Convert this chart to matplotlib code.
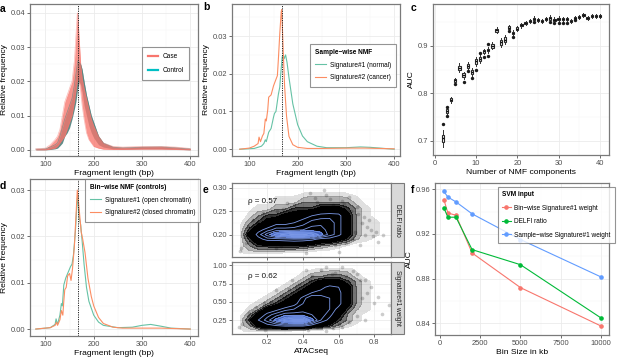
import numpy as np
import matplotlib
matplotlib.use('Agg')
import matplotlib.pyplot as plt
from matplotlib.patches import Rectangle
from matplotlib.lines import Line2D

plt.rcParams['font.family'] = ['Liberation Sans', 'DejaVu Sans']

# ---------------- panel a: fragment length profiles (envelopes of many samples)
frag_len_a = [80, 100, 110, 120, 125, 130, 135, 140, 145, 150, 155, 160, 163, 166, 167, 170, 173, 176,
              180, 185, 190, 195, 200, 210, 220, 240, 260, 300, 340, 370, 400]
case_lo = [0, 0, 0.0002, 0.0005, 0.001, 0.002, 0.003, 0.004, 0.006, 0.008, 0.010, 0.014, 0.017, 0.020, 0.021,
           0.020, 0.017, 0.013, 0.009, 0.005, 0.003, 0.002, 0.001, 0.0005, 0.0002, 0.0001, 0.0001, 0.0002,
           0.0002, 0.0001, 0]
case_hi = [0.0003, 0.0005, 0.0015, 0.003, 0.004, 0.006, 0.010, 0.014, 0.016, 0.018, 0.020, 0.026, 0.033, 0.040,
           0.0395, 0.032, 0.025, 0.021, 0.018, 0.015, 0.012, 0.009, 0.007, 0.004, 0.002, 0.001, 0.0008, 0.001,
           0.001, 0.0008, 0.0004]
ctrl_lo = [0, 0, 0.0001, 0.0003, 0.0005, 0.0012, 0.002, 0.004, 0.005, 0.0065, 0.009, 0.012, 0.014, 0.017, 0.018,
           0.020, 0.019, 0.017, 0.013, 0.010, 0.007, 0.005, 0.0035, 0.0015, 0.0008, 0.0003, 0.0002, 0.0003,
           0.0003, 0.0002, 0]
ctrl_hi = [0.0002, 0.0003, 0.0008, 0.0015, 0.002, 0.004, 0.0065, 0.009, 0.011, 0.013, 0.015, 0.019, 0.022, 0.025,
           0.026, 0.0255, 0.025, 0.0235, 0.020, 0.016, 0.013, 0.010, 0.008, 0.004, 0.002, 0.0008, 0.0006,
           0.0008, 0.0009, 0.0006, 0.0003]

# ---------------- panel b: sample-wise NMF signatures
sig1_normal_x = [80, 110, 120, 125, 130, 133, 135, 140, 145, 150, 152, 155, 160, 163, 165, 168, 170, 172, 175, 178,
                 182, 190, 200, 210, 220, 240, 260, 300, 330, 350, 380, 400]
sig1_normal_y = [0, 0.0002, 0.0006, 0.0008, 0.0015, 0.0025, 0.002, 0.0045, 0.0055, 0.0085, 0.0095, 0.0100, 0.0145,
                 0.0165, 0.020, 0.0245, 0.025, 0.024, 0.025, 0.023, 0.019, 0.012, 0.0065, 0.0035, 0.002, 0.0008,
                 0.0004, 0.0004, 0.0006, 0.0005, 0.0002, 0.0]
sig2_cancer_x = [80, 100, 110, 118, 120, 123, 127, 130, 133, 135, 138, 140, 145, 150, 155, 158, 160, 163, 166, 167,
                 170, 173, 177, 182, 190, 200, 220, 250, 300, 340, 400]
sig2_cancer_y = [0, 0.0003, 0.0008, 0.0015, 0.0032, 0.002, 0.0035, 0.0042, 0.008, 0.0075, 0.0104, 0.0138, 0.0144,
                 0.0168, 0.0185, 0.0195, 0.0237, 0.0307, 0.0365, 0.037, 0.0264, 0.0166, 0.0087, 0.0034, 0.0012,
                 0.0005, 0.0002, 0.0002, 0.0003, 0.0003, 0.0001]

# ---------------- panel c: AUC vs number of NMF components
n_components = list(range(2, 41))
auc_median = [0.705, 0.762, 0.786, 0.827, 0.854, 0.838, 0.858, 0.845, 0.867, 0.872, 0.888, 0.891, 0.900, 0.933,
              0.907, 0.913, 0.938, 0.927, 0.936, 0.943, 0.948, 0.953, 0.956, 0.955, 0.953, 0.957, 0.958, 0.955,
              0.957, 0.956, 0.956, 0.953, 0.958, 0.960, 0.964, 0.959, 0.962, 0.962, 0.962]
auc_box_half = [0.007, 0.004, 0.003, 0.003, 0.004, 0.004, 0.004, 0.004, 0.005, 0.004, 0.003, 0.003, 0.004, 0.003,
                0.005, 0.005, 0.003, 0.003, 0.003, 0.002, 0.002, 0.002, 0.002, 0.002, 0.002, 0.002, 0.003, 0.002,
                0.002, 0.002, 0.002, 0.002, 0.002, 0.002, 0.002, 0.002, 0.002, 0.002, 0.002]
auc_whisker = [0.018, 0.007, 0.006, 0.006, 0.010, 0.007, 0.008, 0.008, 0.010, 0.008, 0.006, 0.006, 0.007, 0.006,
               0.010, 0.010, 0.006, 0.006, 0.005, 0.005, 0.004, 0.004, 0.006, 0.004, 0.004, 0.004, 0.006, 0.005,
               0.005, 0.004, 0.004, 0.004, 0.004, 0.004, 0.004, 0.004, 0.004, 0.004, 0.004]
outlier_k = [2, 3, 3, 5, 7, 8, 9, 10, 11, 12, 13, 13, 18, 19, 24, 28, 29, 30, 31, 32, 34]
outlier_auc = [0.736, 0.772, 0.752, 0.819, 0.824, 0.847, 0.833, 0.850, 0.884, 0.877, 0.878, 0.903, 0.931, 0.919,
               0.950, 0.950, 0.947, 0.948, 0.948, 0.948, 0.954]

# ---------------- panel d: bin-wise NMF signatures (controls)
open_x = [80, 110, 120, 122, 125, 130, 133, 135, 138, 142, 148, 152, 155, 158, 162, 165, 167, 169, 171, 173, 176,
          180, 185, 190, 200, 210, 220, 250, 280, 300, 318, 340, 360, 400]
open_y = [0, 0.0003, 0.001, 0.0022, 0.001, 0.003, 0.0055, 0.005, 0.0095, 0.011, 0.0125, 0.0135, 0.014, 0.016,
          0.021, 0.0265, 0.029, 0.025, 0.0235, 0.0225, 0.019, 0.014, 0.009, 0.006, 0.003, 0.0015, 0.0008, 0.0003,
          0.0004, 0.0008, 0.001, 0.0006, 0.0002, 0]
closed_x = [80, 110, 120, 123, 125, 130, 133, 136, 138, 140, 143, 146, 150, 153, 156, 160, 163, 166, 168, 171, 174,
            177, 182, 188, 195, 200, 210, 220, 240, 260, 300, 340, 400]
closed_y = [0, 0.0003, 0.0008, 0.0015, 0.0008, 0.002, 0.004, 0.003, 0.006, 0.0085, 0.009, 0.0115, 0.012, 0.0105,
            0.013, 0.018, 0.024, 0.030, 0.028, 0.0245, 0.021, 0.0195, 0.0165, 0.011, 0.007, 0.005, 0.0025,
            0.0012, 0.0004, 0.0002, 0.0002, 0.0002, 0]

# ---------------- panel e: density of bins (read as a coarse grid) + sparse outlying bins
atac_grid = [0.05, 0.10, 0.15, 0.20, 0.25, 0.30, 0.35, 0.40, 0.45, 0.50, 0.55, 0.60, 0.65, 0.70, 0.75, 0.80,
             0.85, 0.90]
delfi_grid = [0.16, 0.175, 0.19, 0.20, 0.21, 0.225, 0.24, 0.255, 0.27, 0.29]
delfi_density = [
    [0.5, 1, 1, 1, 1, 0.5, 0.5, 0.5, 0, 0, 0, 0, 0, 0, 0, 0, 0, 0],
    [1, 2, 3, 3, 3.2, 3.2, 3.2, 3, 2.5, 2, 1.5, 1, 0.5, 0, 0, 0, 0, 0],
    [1, 3, 5, 6, 6, 6.2, 6.4, 6.3, 6, 5, 5, 4, 3, 1.5, 1, 0.5, 0, 0],
    [1, 4, 6, 8, 10, 11, 12, 12, 11, 9, 7, 6, 4, 2, 1, 1, 0.5, 0],
    [1, 3, 5, 6, 7, 7, 7, 7.5, 8, 8, 7, 6, 4, 2, 1, 1, 0.5, 0],
    [0.5, 2, 3, 4, 5, 5, 5.5, 6, 7, 7.2, 7, 6, 4, 2, 1, 1, 0.5, 0],
    [0, 1, 2, 3, 3, 4, 4, 5, 5.5, 6, 6.2, 6, 4, 2, 1, 0.5, 0, 0],
    [0, 0.5, 1, 1, 2, 2, 3, 3, 3, 4, 4, 4, 3, 2, 1, 0.5, 0, 0],
    [0, 0, 0.5, 0.5, 1, 1, 1, 2, 2, 2, 2, 2, 2, 1, 0.5, 0, 0, 0],
    [0, 0, 0, 0, 0.5, 0.5, 0.5, 0.5, 1, 1, 1, 1, 0.5, 0.5, 0, 0, 0, 0],
]
sig1w_grid = [0.10, 0.175, 0.25, 0.325, 0.40, 0.475, 0.55, 0.625, 0.70, 0.775, 0.85, 0.95]
sig1w_density = [
    [0.5, 1, 1, 1, 1, 1, 0.5, 0.5, 0, 0, 0, 0, 0, 0, 0, 0, 0, 0],
    [1, 2, 4, 5, 5.5, 6, 6, 6, 5, 4, 3, 2, 1, 0.5, 0, 0, 0, 0],
    [1, 3, 5.5, 7, 9, 11, 12, 12, 9, 6.5, 5, 3, 2, 1, 0.5, 0, 0, 0],
    [0.5, 2, 4, 6, 7, 8, 8, 8, 7.5, 7, 6, 4, 2, 1, 0.5, 0.5, 0, 0],
    [0, 1, 2, 4, 5, 6, 6.5, 7, 7, 7, 6.5, 5, 3, 1.5, 1, 0.5, 0, 0],
    [0, 0.5, 1, 2, 3, 4, 5, 6.5, 7, 7, 6.5, 6, 4, 2, 1, 0.5, 0.5, 0],
    [0, 0, 0.5, 1, 2, 3, 4, 6, 7.5, 7, 6.5, 6, 4, 2, 1, 0.5, 0.5, 0],
    [0, 0, 0, 0.5, 1, 2, 3, 4, 5.5, 6, 6.5, 6, 4, 2, 1, 0.5, 0, 0],
    [0, 0, 0, 0, 0.5, 1, 2, 3, 4, 5, 6, 5.5, 4, 2, 1, 0.5, 0, 0],
    [0, 0, 0, 0, 0, 0.5, 1, 2, 3, 4, 4, 4, 3, 2, 1, 0.5, 0, 0],
    [0, 0, 0, 0, 0, 0, 0.5, 1, 2, 2, 2.5, 2.5, 2, 1, 0.5, 0, 0, 0],
    [0, 0, 0, 0, 0, 0, 0, 0.5, 0.5, 1, 1, 1, 1, 0.5, 0, 0, 0, 0],
]
delfi_pts_x = [0.046, 0.052, 0.079, 0.123, 0.179, 0.254, 0.31, 0.44, 0.516, 0.66, 0.74, 0.78, 0.82, 0.72, 0.60,
               0.416, 0.09, 0.15, 0.35, 0.55, 0.63, 0.70, 0.76, 0.68, 0.58, 0.25, 0.20, 0.38, 0.48, 0.85,
               0.07, 0.11, 0.14, 0.22, 0.29, 0.33, 0.47, 0.53, 0.57, 0.62, 0.67, 0.71, 0.73, 0.77, 0.79,
               0.81, 0.64, 0.45, 0.40, 0.28, 0.17, 0.13, 0.69, 0.75]
delfi_pts_y = [0.164, 0.171, 0.182, 0.232, 0.246, 0.250, 0.267, 0.288, 0.295, 0.280, 0.237, 0.209, 0.184, 0.177,
               0.163, 0.160, 0.215, 0.225, 0.262, 0.275, 0.265, 0.258, 0.215, 0.190, 0.178, 0.172, 0.230, 0.245,
               0.270, 0.200, 0.195, 0.186, 0.222, 0.238, 0.255, 0.248, 0.278, 0.285, 0.262, 0.272, 0.250,
               0.243, 0.225, 0.232, 0.196, 0.205, 0.182, 0.175, 0.178, 0.176, 0.180, 0.210, 0.205, 0.200]
sig1w_pts_x = [0.04, 0.079, 0.135, 0.247, 0.34, 0.42, 0.53, 0.62, 0.75, 0.82, 0.84, 0.75, 0.53, 0.25, 0.19,
               0.10, 0.30, 0.45, 0.58, 0.70, 0.78, 0.66, 0.36, 0.15, 0.88, 0.60, 0.48, 0.22, 0.40, 0.70,
               0.06, 0.12, 0.18, 0.28, 0.32, 0.38, 0.44, 0.50, 0.56, 0.64, 0.68, 0.72, 0.76, 0.80, 0.66,
               0.62, 0.57, 0.43, 0.26, 0.20, 0.09, 0.73]
sig1w_pts_y = [0.158, 0.25, 0.43, 0.66, 0.795, 0.93, 0.977, 0.98, 0.795, 0.565, 0.34, 0.25, 0.10, 0.158, 0.12,
               0.35, 0.55, 0.85, 0.90, 0.88, 0.70, 0.45, 0.70, 0.30, 0.45, 0.20, 0.15, 0.50, 0.62, 0.30,
               0.20, 0.38, 0.48, 0.58, 0.68, 0.75, 0.80, 0.93, 0.88, 0.86, 0.92, 0.80, 0.62, 0.48, 0.22,
               0.16, 0.14, 0.12, 0.45, 0.40, 0.30, 0.55]
rho_labels = ['ρ = 0.57', 'ρ = 0.62']
strip_labels = ['DELFI ratio', 'Signature#1 weight']

# ---------------- panel f: SVM AUC vs bin size
bin_size_kb = [250, 500, 1000, 2000, 5000, 10000]
auc_binwise = [0.9507, 0.9388, 0.9367, 0.9030, 0.8720, 0.8376]
auc_delfi = [0.9433, 0.9350, 0.9350, 0.9060, 0.8925, 0.8448]
auc_samplewise = [0.9580, 0.9530, 0.9487, 0.9380, 0.9150, 0.8815]
svm_labels = ['Bin−wise Signature#1 weight', 'DELFI ratio', 'Sample−wise Signature#1 weight']

# ============================================================ drawing
W, H = 617, 359
fig = plt.figure(figsize=(W / 100, H / 100), dpi=100)

TICK_FS = 5.4
LAB_FS = 6.1
LEG_FS = 4.7
GRID_MAJ = '#EBEBEB'
GRID_MIN = '#F4F4F4'
BORDER = '#7A7A7A'


def add_ax(l, t, r, b):
    return fig.add_axes([l / W, 1 - b / H, (r - l) / W, (b - t) / H])


def style(ax, xmaj, xmin, ymaj, ymin, xlim, ylim, yfmt=None):
    ax.set_xlim(*xlim)
    ax.set_ylim(*ylim)
    ax.set_xticks(xmaj)
    ax.set_xticks(xmin, minor=True)
    ax.set_yticks(ymaj)
    ax.set_yticks(ymin, minor=True)
    if yfmt:
        ax.set_yticklabels([yfmt.format(v) for v in ymaj])
    ax.grid(which='major', color=GRID_MAJ, lw=0.6)
    ax.grid(which='minor', color=GRID_MIN, lw=0.35)
    ax.set_axisbelow(True)
    for s in ax.spines.values():
        s.set_color(BORDER)
        s.set_linewidth(0.9)
    ax.tick_params(which='major', length=2, width=0.5, color='#333333', labelsize=TICK_FS,
                   labelcolor='#4D4D4D', pad=1.5)
    ax.tick_params(which='minor', length=0)


def legend_box(leg):
    fr = leg.get_frame()
    fr.set_edgecolor(BORDER)
    fr.set_linewidth(0.8)
    fr.set_boxstyle('square', pad=0)


def letter(x, y, s):
    fig.text(x / W, 1 - y / H, s, fontsize=7.5, fontweight='bold', ha='left', va='center')


frag_xmaj = [100, 200, 300, 400]
frag_xmin = [150, 250, 350]
leg_kw = dict(fontsize=LEG_FS, title_fontproperties={'weight': 'bold', 'size': LEG_FS}, handlelength=1.6,
              borderpad=0.8, labelspacing=0.85, handletextpad=0.6, borderaxespad=0, fancybox=False,
              alignment='left')

# ---- a
ax = add_ax(30, 4, 198, 156)
style(ax, frag_xmaj, frag_xmin, [0, 0.01, 0.02, 0.03, 0.04], [0.005, 0.015, 0.025, 0.035],
      (68, 416), (-0.0018, 0.0426), '{:.2f}')
ax.fill_between(frag_len_a, ctrl_lo, ctrl_hi, color='#4F807C', alpha=0.9, lw=0)
ax.plot(frag_len_a, ctrl_hi, color='#4F807C', lw=0.5, alpha=0.6)
ax.fill_between(frag_len_a, case_lo, case_hi, color='#F8766D', alpha=0.78, lw=0)
ax.plot(frag_len_a, case_hi, color='#F8766D', lw=0.5, alpha=0.5)
ax.plot(frag_len_a, case_lo, color='#F8766D', lw=0.5, alpha=0.5)
ax.axvline(167, color='#222222', ls=(0, (1.2, 1.2)), lw=0.7)
ax.set_xlabel('Fragment length (bp)', fontsize=LAB_FS, labelpad=1.5)
ax.set_ylabel('Relative frequency', fontsize=LAB_FS, labelpad=2)
h = [Line2D([], [], color='#F8766D', lw=1.6), Line2D([], [], color='#00BFC4', lw=1.6)]
leg = ax.legend(h, ['Case', 'Control'], loc='upper left', bbox_to_anchor=(0.667, 0.717), fontsize=LEG_FS,
                handlelength=1.6, borderpad=0.9, labelspacing=1.1, handletextpad=0.6, borderaxespad=0,
                fancybox=False)
legend_box(leg)
letter(0, 9, 'a')

# ---- b
ax = add_ax(232, 4, 400, 156)
style(ax, frag_xmaj, frag_xmin, [0, 0.01, 0.02, 0.03], [0.005, 0.015, 0.025, 0.035],
      (64, 412), (-0.0018, 0.0385), '{:.2f}')
ax.plot(sig1_normal_x, sig1_normal_y, color='#66C2A5', lw=0.8, label='Signature#1 (normal)')
ax.plot(sig2_cancer_x, sig2_cancer_y, color='#FC8D62', lw=0.8, label='Signature#2 (cancer)')
ax.axvline(167, color='#222222', ls=(0, (1.2, 1.2)), lw=0.7)
ax.set_xlabel('Fragment length (bp)', fontsize=LAB_FS, labelpad=1.5)
ax.set_ylabel('Relative frequency', fontsize=LAB_FS, labelpad=2)
leg = ax.legend(loc='upper left', bbox_to_anchor=(0.464, 0.737), title='Sample−wise NMF', **leg_kw)
legend_box(leg)
letter(203, 7, 'b')

# ---- c
ax = add_ax(433, 4, 609, 155)
style(ax, [0, 10, 20, 30, 40], [5, 15, 25, 35], [0.7, 0.8, 0.9], [0.75, 0.85, 0.95],
      (-0.4, 42.2), (0.670, 0.988), '{:.1f}')
stats = []
for m, hb, wk in zip(auc_median, auc_box_half, auc_whisker):
    stats.append({'med': m, 'q1': m - hb, 'q3': m + hb, 'whislo': m - wk, 'whishi': m + wk, 'fliers': []})
ax.bxp(stats, positions=n_components, widths=0.55, showfliers=False, patch_artist=True,
       boxprops=dict(facecolor='white', edgecolor='#2A2A2A', lw=0.8),
       medianprops=dict(color='#111111', lw=1.0), whiskerprops=dict(color='#333333', lw=0.7),
       capprops=dict(lw=0), manage_ticks=False)
ax.scatter(outlier_k, outlier_auc, s=6, color='#1A1A1A', zorder=3, lw=0)
ax.set_xlabel('Number of NMF components', fontsize=LAB_FS, labelpad=1.5)
ax.set_ylabel('AUC', fontsize=LAB_FS, labelpad=2)
letter(411, 8, 'c')

# ---- d
ax = add_ax(30, 179, 198, 336)
style(ax, frag_xmaj, frag_xmin, [0, 0.01, 0.02, 0.03], [0.005, 0.015, 0.025],
      (68, 416), (-0.0015, 0.0324), '{:.2f}')
ax.plot(open_x, open_y, color='#66C2A5', lw=0.8, label='Signature#1 (open chromatin)')
ax.plot(closed_x, closed_y, color='#FC8D62', lw=0.8, label='Signature#2 (closed chromatin)')
ax.axvline(167, color='#222222', ls=(0, (1.2, 1.2)), lw=0.7)
ax.set_xlabel('Fragment length (bp)', fontsize=LAB_FS, labelpad=1.5)
ax.set_ylabel('Relative frequency', fontsize=LAB_FS, labelpad=2)
leg = ax.legend(loc='upper left', bbox_to_anchor=(0.327, 1.0), title='Bin−wise NMF (controls)', **leg_kw)
legend_box(leg)
letter(0, 186, 'd')

# ---- e
grey_levels = [0.7, 1.4, 2.1, 2.8, 3.4, 100]
grey_cols = [(0, 0, 0, 0.12), (0, 0, 0, 0.3), (0, 0, 0, 0.55), (0, 0, 0, 0.8), (0, 0, 0, 1.0)]
facets = [
    (183, 257, delfi_grid, delfi_density, delfi_pts_x, delfi_pts_y, (0.152, 0.310),
     [0.20, 0.25, 0.30], [0.175, 0.225, 0.275], '{:.2f}', (0.09, 0.271)),
    (262, 334, sig1w_grid, sig1w_density, sig1w_pts_x, sig1w_pts_y, (0.06, 1.045),
     [0.25, 0.50, 0.75, 1.00], [0.125, 0.375, 0.625, 0.875], '{:.2f}', (0.09, 0.85)),
]
for i, (t, b, gy, dens, px, py, ylim, ymaj, ymin, fmt, rpos) in enumerate(facets):
    ax = add_ax(232, t, 391, b)
    style(ax, [0.2, 0.4, 0.6, 0.8], [0.1, 0.3, 0.5, 0.7], ymaj, ymin, (0.003, 0.893), ylim, fmt)
    D = np.array(dens)
    X, Y = np.meshgrid(atac_grid, gy)
    ax.contourf(X, Y, D, levels=grey_levels, colors=grey_cols, zorder=2)
    ax.scatter(px, py, s=7, color='black', alpha=0.2, lw=0, zorder=2.5)
    ax.contourf(X, Y, D, levels=[8.5, 10, 100], colors=['#3F5FB8', '#5E80DB'], zorder=3)
    ax.contour(X, Y, D, levels=[5.5, 6.5, 7.5, 8.5, 9.5, 10.5, 11.5], colors='#7B98E6', linewidths=0.6,
               zorder=4)
    ax.text(rpos[0], rpos[1], rho_labels[i], fontsize=5.8, ha='left', va='center', color='#111111')
    if i == 0:
        ax.tick_params(labelbottom=False)
    else:
        ax.set_xlabel('ATACseq', fontsize=LAB_FS, labelpad=1.5)
    fig.patches.append(Rectangle((391 / W, 1 - b / H), 13 / W, (b - t) / H, transform=fig.transFigure,
                                 facecolor='#D9D9D9', edgecolor=BORDER, lw=0.8))
    fig.text(397.5 / W, 1 - (t + b) / 2 / H, strip_labels[i], rotation=270, fontsize=LEG_FS,
             ha='center', va='center', color='#1A1A1A')
letter(203, 190, 'e')

# ---- f
ax = add_ax(435, 183, 609, 335)
style(ax, [0, 2500, 5000, 7500, 10000], [1250, 3750, 6250, 8750], [0.84, 0.88, 0.92, 0.96],
      [0.86, 0.90, 0.94], (-300, 10490), (0.8296, 0.9656), '{:.2f}')
for ys, col, lab in zip([auc_binwise, auc_delfi, auc_samplewise], ['#F8766D', '#00BA38', '#619CFF'], svm_labels):
    ax.plot(bin_size_kb, ys, color=col, lw=0.8, marker='o', ms=2.3, label=lab)
ax.set_xlabel('Bin Size in kb', fontsize=LAB_FS, labelpad=1.5)
ax.set_ylabel('AUC', fontsize=LAB_FS, labelpad=2)
f_kw = dict(leg_kw)
f_kw.update(borderpad=0.65, handlelength=1.3, handletextpad=0.5, labelspacing=1.0)
leg = ax.legend(loc='upper left', bbox_to_anchor=(0.362, 0.974), title='SVM input', **f_kw)
legend_box(leg)
leg.set_zorder(10)
letter(411, 190, 'f')

fig.savefig('out.png', dpi=100)
